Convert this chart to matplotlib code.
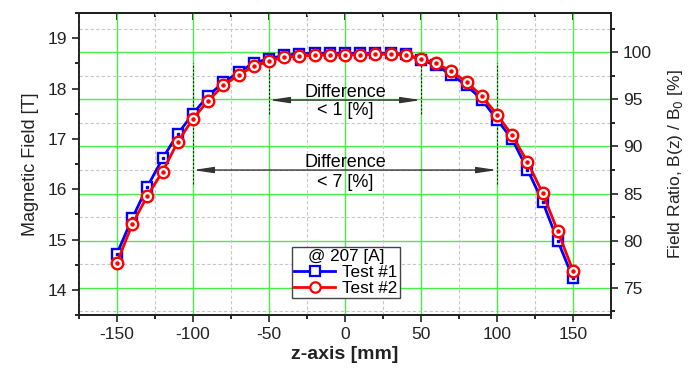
import matplotlib
matplotlib.use("Agg")
import matplotlib.pyplot as plt
from matplotlib.ticker import MultipleLocator
from matplotlib.lines import Line2D
import numpy as np

plt.rcParams['font.family'] = ['Liberation Sans', 'DejaVu Sans']
plt.rcParams['axes.unicode_minus'] = False

# z position [mm]
z = np.arange(-150, 151, 10)
# field values [T], z = -150 ... 150
test1 = [14.72, 15.42, 16.05, 16.61, 17.10, 17.50, 17.86, 18.12, 18.32, 18.51,
         18.59, 18.66, 18.69, 18.70, 18.70, 18.70, 18.70, 18.70, 18.70, 18.68,
         18.57, 18.46, 18.27, 18.06, 17.78, 17.38, 16.99, 16.39, 15.75, 14.97,
         14.23]
test2 = [14.54, 15.30, 15.87, 16.35, 16.94, 17.40, 17.76, 18.06, 18.27, 18.44,
         18.55, 18.62, 18.65, 18.66, 18.67, 18.67, 18.67, 18.68, 18.68, 18.67,
         18.59, 18.50, 18.34, 18.13, 17.85, 17.48, 17.07, 16.54, 15.92, 15.16,
         14.38]

B0 = 18.72  # reference field for ratio axis
ylim_left = (13.5, 19.5)
xlim = (-175, 175)

green = '#44f044'
fig = plt.figure(figsize=(6.91, 3.75), dpi=100)
ax1 = fig.add_axes([0.1143, 0.16, 0.77, 0.8053])
ax2 = ax1.twinx()
ax1.set_zorder(ax2.get_zorder() + 1)
ax1.patch.set_visible(False)

ax1.set_xlim(*xlim)
ax1.set_ylim(*ylim_left)
ax2.set_ylim(ylim_left[0] / B0 * 100, ylim_left[1] / B0 * 100)

# grids
ax1.xaxis.set_major_locator(MultipleLocator(50))
ax1.xaxis.set_minor_locator(MultipleLocator(25))
ax1.yaxis.set_major_locator(MultipleLocator(1))
ax1.yaxis.set_minor_locator(MultipleLocator(0.5))
ax2.yaxis.set_major_locator(MultipleLocator(5))
ax2.yaxis.set_minor_locator(MultipleLocator(2.5))
ax1.grid(True, which='major', axis='x', color=green, lw=1)
ax1.grid(True, which='minor', axis='x', color='#c8c8c8', lw=0.8, ls=(0, (3, 2)))
ax2.grid(True, which='major', axis='y', color=green, lw=1)
ax2.grid(True, which='minor', axis='y', color='#c8c8c8', lw=0.8, ls=(0, (3, 2)))
ax1.set_axisbelow(True)

# curves
ax1.plot(z, test1, color='#0000ff', lw=2, marker='s', ms=7.8, mfc='white',
         mec='#0000ff', mew=1.7, zorder=4)
ax1.plot(z, test1, ls='none', marker='s', ms=2, color='#0000ff', zorder=4)
ax1.plot(z, test2, color='#ff0000', lw=2, marker='o', ms=8.3, mfc='white',
         mec='#ff0000', mew=1.7, zorder=5)
ax1.plot(z, test2, ls='none', marker='o', ms=2.2, color='#ff0000', zorder=5)

# difference markers
for xv in (-50, 50):
    ax1.plot([xv, xv], [17.49, 18.68], color='#222222', lw=0.8, ls=(0, (2, 1.5)), zorder=3)
for xv in (-100, 100):
    ax1.plot([xv, xv], [16.10, 18.50], color='#222222', lw=0.8, ls=(0, (2, 1.5)), zorder=3)

arrow = dict(arrowstyle='<|-|>,head_length=1.2,head_width=0.18', color='#333333',
             lw=1, shrinkA=0, shrinkB=0)
ax1.annotate('', xy=(-50, 17.77), xytext=(50, 17.77), arrowprops=arrow, zorder=3)
ax1.annotate('', xy=(-100, 16.38), xytext=(100, 16.38), arrowprops=arrow, zorder=3)
ax1.text(0, 17.93, 'Difference', ha='center', va='center', fontsize=13)
ax1.text(0, 17.57, '< 1 [%]', ha='center', va='center', fontsize=13)
ax1.text(0, 16.52, 'Difference', ha='center', va='center', fontsize=13)
ax1.text(0, 16.14, '< 7 [%]', ha='center', va='center', fontsize=13)

# ticks
ax1.tick_params(axis='both', which='major', direction='out', length=5, width=1.2,
                labelsize=12.5, colors='#222222')
ax1.tick_params(axis='both', which='minor', direction='out', length=3, width=1.2)
ax2.tick_params(axis='y', which='major', direction='out', length=5, width=1.2,
                labelsize=12.5, colors='#222222')
ax2.tick_params(axis='y', which='minor', direction='out', length=3, width=1.2)
top = ax1.secondary_xaxis('top')
top.xaxis.set_major_locator(MultipleLocator(50))
top.xaxis.set_minor_locator(MultipleLocator(25))
top.tick_params(which='major', direction='in', length=5, width=1.2, labeltop=False)
top.tick_params(which='minor', direction='in', length=3, width=1.2)
for ax in (ax1, ax2):
    for s in ax.spines.values():
        s.set_linewidth(1.3)
        s.set_color('#222222')
top.spines['top'].set_linewidth(1.3)

ax1.set_xlabel('z-axis [mm]', fontsize=14, fontweight='bold', color='#222222', labelpad=3)
ax1.set_ylabel('Magnetic Field [T]', fontsize=13, color='#222222', labelpad=6)
ax2.set_ylabel('Field Ratio, B(z) / B$_0$ [%]', fontsize=12.5, color='#222222', labelpad=10)

handles = [
    Line2D([], [], color='#0000ff', lw=2, marker='s', ms=7, mfc='white', mec='#0000ff', mew=1.6),
    Line2D([], [], color='#ff0000', lw=2, marker='o', ms=7.5, mfc='white', mec='#ff0000', mew=1.6),
]
leg = ax1.legend(handles, ['Test #1', 'Test #2'], title='@ 207 [A]', loc='lower left',
                 bbox_to_anchor=(0.40, 0.055), fontsize=12.3, title_fontsize=12.3,
                 fancybox=False, edgecolor='#444444', framealpha=1,
                 handlelength=2.4, labelspacing=0.05, borderpad=0.15,
                 handletextpad=0.4, borderaxespad=0)
leg.get_frame().set_linewidth(1.0)

fig.savefig('out.png', dpi=100)
